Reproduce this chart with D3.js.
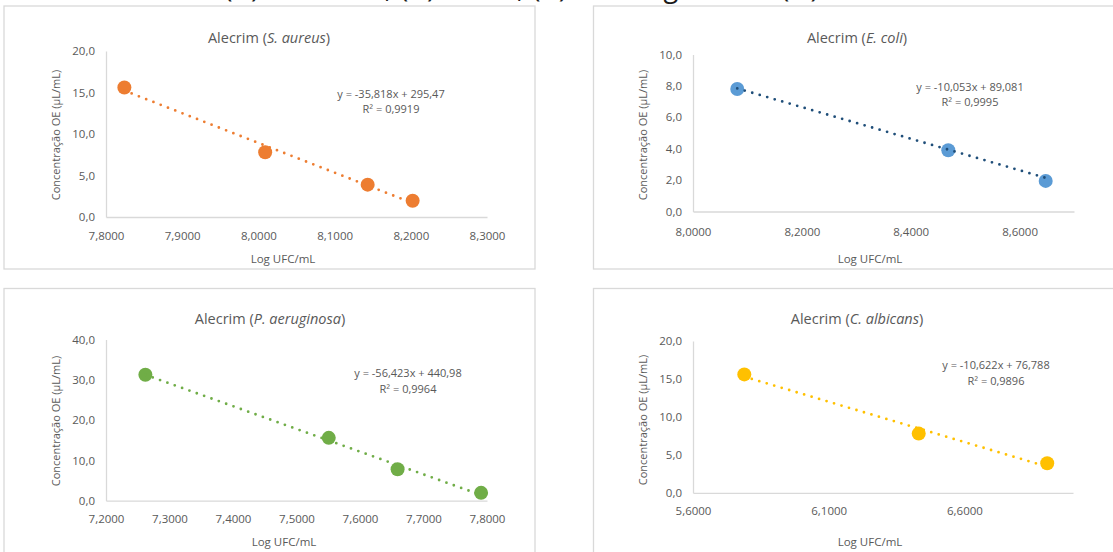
<!DOCTYPE html>
<html>
<head>
<meta charset="utf-8">
<script src="https://cdn.jsdelivr.net/npm/d3@7"></script>
<style>
  html, body { margin: 0; padding: 0; background: #fff; }
  svg { display: block; }
  text { font-family: "Open Sans", "Noto Sans", sans-serif; }
</style>
</head>
<body>
<svg id="chart" width="1113" height="552"></svg>
<script>
// Rosemary essential oil: MIC concentration vs. log UFC/mL, one panel per organism
const organisms = ["S. aureus", "E. coli", "P. aeruginosa", "C. albicans"];

const logUfcA = [7.8241, 8.0089, 8.1434, 8.2024];
const concA   = [15.6, 7.8, 3.9, 1.95];
const logUfcB = [8.0813, 8.4690, 8.6480];
const concB   = [7.8, 3.9, 1.95];
const logUfcC = [7.2620, 7.5508, 7.6592, 7.7907];
const concC   = [31.25, 15.6, 7.8, 1.95];
const logUfcD = [5.7890, 6.4316, 6.9050];
const concD   = [15.6, 7.8, 3.9];

// linear trendlines: y = slope * x + intercept
const slopes     = [-35.818, -10.053, -56.423, -10.622];
const intercepts = [295.47, 89.081, 440.98, 76.788];
const rSquared   = [0.9919, 0.9995, 0.9964, 0.9896];

// axis ticks
const xTicksA = [7.8, 7.9, 8.0, 8.1, 8.2, 8.3];
const yTicksA = [0, 5, 10, 15, 20];
const xTicksB = [8.0, 8.2, 8.4, 8.6];
const yTicksB = [0, 2, 4, 6, 8, 10];
const xTicksC = [7.2, 7.3, 7.4, 7.5, 7.6, 7.7, 7.8];
const yTicksC = [0, 10, 20, 30, 40];
const xTicksD = [5.6, 6.1, 6.6];
const yTicksD = [0, 5, 10, 15, 20];

const series = [
  { xs: logUfcA, ys: concA, xTicks: xTicksA, yTicks: yTicksA },
  { xs: logUfcB, ys: concB, xTicks: xTicksB, yTicks: yTicksB },
  { xs: logUfcC, ys: concC, xTicks: xTicksC, yTicks: yTicksC },
  { xs: logUfcD, ys: concD, xTicks: xTicksD, yTicks: yTicksD }
];

// panel layout and styling
const panels = [
  { box: [4, 6, 531, 263], xDomain: [7.8, 8.3], yDomain: [0, 20], xr: [106, 487], yr: [217, 51],
    title: [269, 42.5], yTitle: [56, 135], xTitle: [283, 263], eq: [391, 98], r2: [391, 113],
    xPad: 15, marker: "#ED7D31", trend: "#ED7D31" },
  { box: [593.5, 6, 540, 263], xDomain: [8.0, 8.7], yDomain: [0, 10], xr: [693, 1074], yr: [211.5, 54.5],
    title: [857, 42.5], yTitle: [643, 135], xTitle: [870, 263], eq: [970, 91], r2: [970, 106],
    xPad: 16, marker: "#5B9BD5", trend: "#1F4E79" },
  { box: [4, 288.5, 531, 280], xDomain: [7.2, 7.8], yDomain: [0, 40], xr: [106, 487], yr: [500.7, 339.5],
    title: [270, 324], yTitle: [56, 421], xTitle: [284, 545.5], eq: [408, 377], r2: [408, 393],
    xPad: 14, marker: "#70AD47", trend: "#70AD47" },
  { box: [593.5, 288.5, 540, 280], xDomain: [5.6, 7.0], yDomain: [0, 20], xr: [693, 1073], yr: [492.8, 341],
    title: [857, 324], yTitle: [643, 420], xTitle: [870, 545.5], eq: [996, 369], r2: [996, 385],
    xPad: 14, marker: "#FFC000", trend: "#FFC000" }
];

const ptBR = d3.formatLocale({ decimal: ",", thousands: ".", grouping: [3], currency: ["", ""], minus: "-" });
const fmtX = ptBR.format(".4f");
const fmtY = ptBR.format(".1f");
const fmtCoef = ptBR.format(".5r");
const fmtR2 = ptBR.format(".4f");

const textColor = "#595959";
const gridColor = "#D9D9D9";

const svg = d3.select("#chart");
svg.append("rect").attr("width", 1113).attr("height", 552).attr("fill", "#fff");

// figure caption running along the top edge
const cap = svg.append("text")
  .attr("x", 224).attr("y", -3)
  .attr("font-size", 29).attr("fill", "#1a1a1a");
[["(A) ", false], ["S. aureus", true], [", (B) ", false], ["E. coli", true],
 [", (C) ", false], ["P. aeruginosa", true], [" e (D) ", false], ["C. albicans", true]]
  .forEach(([t, it]) => cap.append("tspan").attr("font-style", it ? "italic" : "normal").text(t));

panels.forEach((p, i) => {
  const s = series[i];
  const g = svg.append("g");

  g.append("rect")
    .attr("x", p.box[0]).attr("y", p.box[1]).attr("width", p.box[2]).attr("height", p.box[3])
    .attr("fill", "#fff").attr("stroke", gridColor).attr("stroke-width", 1.3);

  const x = d3.scaleLinear().domain(p.xDomain).range(p.xr);
  const y = d3.scaleLinear().domain(p.yDomain).range(p.yr);

  const xAxis = g.append("g")
    .attr("transform", `translate(0,${p.yr[0]})`)
    .call(d3.axisBottom(x).tickValues(s.xTicks).tickFormat(fmtX).tickSize(0).tickPadding(p.xPad));
  const yAxis = g.append("g")
    .attr("transform", `translate(${p.xr[0]},0)`)
    .call(d3.axisLeft(y).tickValues(s.yTicks).tickFormat(fmtY).tickSize(0).tickPadding(11));

  [xAxis, yAxis].forEach(ax => {
    ax.select(".domain").attr("stroke", gridColor).attr("stroke-width", 1.3);
    ax.selectAll("text").attr("fill", textColor).attr("font-size", 11.5)
      .attr("font-family", "'Open Sans', sans-serif");
  });

  // panel title
  const t = g.append("text").attr("x", p.title[0]).attr("y", p.title[1])
    .attr("text-anchor", "middle").attr("font-size", 14.5).attr("fill", textColor);
  t.append("tspan").text("Alecrim (");
  t.append("tspan").attr("font-style", "italic").text(organisms[i]);
  t.append("tspan").text(")");

  // axis titles
  g.append("text")
    .attr("transform", `translate(${p.yTitle[0]},${p.yTitle[1]}) rotate(-90)`)
    .attr("text-anchor", "middle").attr("dy", "0.35em")
    .attr("font-size", 11).attr("fill", textColor)
    .text("Concentração OE (µL/mL)");
  g.append("text").attr("x", p.xTitle[0]).attr("y", p.xTitle[1])
    .attr("text-anchor", "middle").attr("font-size", 11.5).attr("fill", textColor)
    .text("Log UFC/mL");

  // data markers
  const pts = s.xs.map((v, k) => [v, s.ys[k]]);
  g.append("g").selectAll("circle").data(pts).join("circle")
    .attr("cx", d => x(d[0])).attr("cy", d => y(d[1])).attr("r", 7)
    .attr("fill", p.marker);

  // dotted linear trendline over the data range
  const xMin = d3.min(s.xs), xMax = d3.max(s.xs);
  const line = [xMin, xMax].map(v => [v, slopes[i] * v + intercepts[i]]);
  g.append("path")
    .attr("d", d3.line().x(d => x(d[0])).y(d => y(d[1]))(line))
    .attr("fill", "none").attr("stroke", p.trend).attr("stroke-width", 2.8)
    .attr("stroke-linecap", "round").attr("stroke-dasharray", "0 7.8");

  // trendline equation
  const sign = intercepts[i] < 0 ? "-" : "+";
  g.append("text").attr("x", p.eq[0]).attr("y", p.eq[1])
    .attr("text-anchor", "middle").attr("font-size", 11).attr("fill", textColor)
    .text(`y = ${fmtCoef(slopes[i])}x ${sign} ${fmtCoef(Math.abs(intercepts[i]))}`);
  g.append("text").attr("x", p.r2[0]).attr("y", p.r2[1])
    .attr("text-anchor", "middle").attr("font-size", 11).attr("fill", textColor)
    .text(`R² = ${fmtR2(rSquared[i])}`);
});
</script>
</body>
</html>
